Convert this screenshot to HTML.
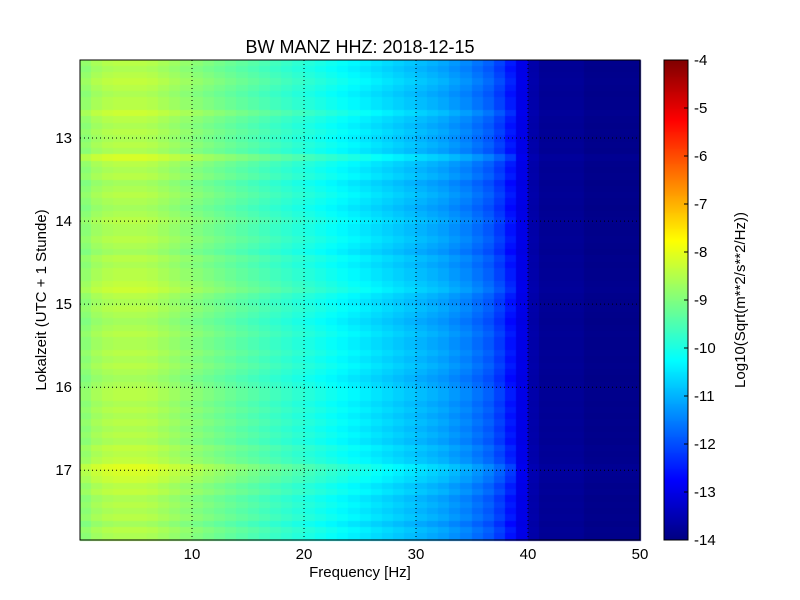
<!DOCTYPE html>
<html><head><meta charset="utf-8"><style>
body{margin:0;background:#fff;width:800px;height:600px;overflow:hidden;font-family:"Liberation Sans","DejaVu Sans",sans-serif}
#wrap{position:relative;width:800px;height:600px}
canvas,svg{position:absolute;left:0;top:0}
</style></head><body><div id="wrap">
<canvas id="hm" width="800" height="600"></canvas>
<svg id="ov" width="800" height="600"></svg>
</div>
<script>
// frequency bins (Hz, 1 Hz wide) and mean log10 amplitude per bin
const freqBins=[0,1,2,3,4,5,6,7,8,9,10,11,12,13,14,15,16,17,18,19,20,21,22,23,24,25,26,27,28,29,30,31,32,33,34,35,36,37,38,39,40,41,42,43,44,45,46,47,48,49];
const freqProfile=[-8.9,-8.7,-8.6,-8.55,-8.55,-8.55,-8.6,-8.7,-8.8,-8.9,-9.0,-9.1,-9.2,-9.3,-9.4,-9.5,-9.6,-9.7,-9.8,-9.9,-10.0,-10.1,-10.2,-10.3,-10.4,-10.5,-10.6,-10.7,-10.8,-10.9,-11.0,-11.1,-11.2,-11.35,-11.5,-11.7,-11.9,-12.2,-12.6,-13.0,-13.6,-13.8,-13.8,-13.8,-13.8,-13.9,-13.9,-13.9,-13.9,-13.9];
// time rows (hours, local) and per-row offsets
const timeStart=12.06, timeEnd=17.84;
const rowOffsets=[0.1,0,0.1,0.2,0.1,0,0.1,0.1,0.3,0.1,0,0.1,0,0.1,0,0.4,0.1,0,0.1,-0.1,0,0.1,0,-0.1,0,0.1,0,0,0.1,0,-0.1,0.1,0,0.1,0.1,0.2,0.3,0.1,0,0.1,0,-0.1,0,0.1,0,0,0.1,0,0.1,0,-0.1,0,0.1,0.1,0,0.1,0,0.1,0,0.1,0,0.2,0.1,0.2,0.5,0.4,0.3,0.1,0.2,0,0.1,0,0.1,-0.1,0.1,0];
const xTicks=[10,20,30,40,50];
const yTicks=[13,14,15,16,17];
const cTicks=[-4,-5,-6,-7,-8,-9,-10,-11,-12,-13,-14];
const L=80,R=640,T=60,B=540,CL=664,CR=688;
const xs=f=>L+(f-0)/(50-0)*(R-L);
const ys=t=>T+(t-timeStart)/(timeEnd-timeStart)*(B-T);
const cs=v=>T+(-4-v)/10*(B-T);
function jet(v){let x=(v+14)/10;x=Math.max(0,Math.min(1,x));
 const c=t=>Math.round(255*Math.max(0,Math.min(1,1.5-Math.abs(4*x-t))));
 return `rgb(${c(3)},${c(2)},${c(1)})`;}
const ctx=document.getElementById('hm').getContext('2d');
const nr=rowOffsets.length, dt=(timeEnd-timeStart)/nr;
for(let r=0;r<nr;r++){for(let i=0;i<freqBins.length;i++){
 const v=freqProfile[i]+(freqBins[i]<39?rowOffsets[r]:rowOffsets[r]*0.2);
 ctx.fillStyle=jet(v);
 const x0=xs(freqBins[i]),x1=xs(freqBins[i]+1),y0=ys(timeStart+r*dt),y1=ys(timeStart+(r+1)*dt);
 ctx.fillRect(Math.floor(x0),Math.floor(y0),Math.ceil(x1-x0)+1,Math.ceil(y1-y0)+1);}}
for(let y=T;y<B;y++){ctx.fillStyle=jet(-4-(y-T)/(B-T)*10);ctx.fillRect(CL,y,CR-CL,1);}
const svg=document.getElementById('ov');const NS='http://www.w3.org/2000/svg';
function el(tag,a,txt){const e=document.createElementNS(NS,tag);for(const k in a)e.setAttribute(k,a[k]);if(txt!==undefined)e.textContent=txt;svg.appendChild(e);return e;}
xTicks.forEach(f=>{const x=xs(f);
 if(f<50){const g=el('line',{x1:x,x2:x,y1:T,y2:B,stroke:'#000','stroke-dasharray':'1,3','stroke-width':1});
 
 }
 const t=el('text',{x:x,y:B+19,'text-anchor':'middle','font-size':15},String(f));
 
 });
yTicks.forEach(h=>{const y=ys(h);
 const g=el('line',{x1:L,x2:R,y1:y,y2:y,stroke:'#000','stroke-dasharray':'1,3','stroke-width':1});
 
 
 const t=el('text',{x:L-8,y:y+5,'text-anchor':'end','font-size':15},String(h));
 
 });
cTicks.forEach(v=>{const y=cs(v);
 el('line',{x1:CR-4,x2:CR,y1:y,y2:y,stroke:'#000'});
 const t=el('text',{x:CR+6,y:y+5,'font-size':15},String(v));
 
 });
const f1=el('rect',{x:L,y:T,width:R-L,height:B-T,fill:'none',stroke:'#000'});


const f2=el('rect',{x:CL,y:T,width:CR-CL,height:B-T,fill:'none',stroke:'#000'});


const ti=el('text',{x:360,y:53,'text-anchor':'middle','font-size':18},'BW MANZ HHZ: 2018-12-15');


const xl=el('text',{x:360,y:577,'text-anchor':'middle','font-size':15},'Frequency [Hz]');


const yl=el('text',{x:46,y:300,'text-anchor':'middle','font-size':15,transform:'rotate(-90 46 300)'},'Lokalzeit (UTC + 1 Stunde)');


const cl=el('text',{x:745,y:300,'text-anchor':'middle','font-size':15,transform:'rotate(-90 745 300)'},'Log10(Sqrt(m**2/s**2/Hz))');


</script></body></html>
